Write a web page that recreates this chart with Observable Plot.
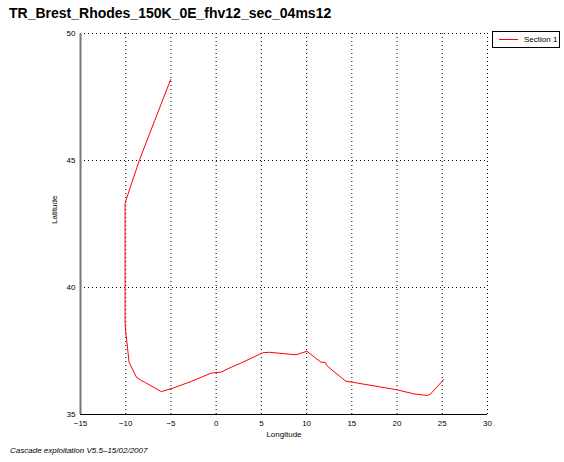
<!DOCTYPE html>
<html>
<head>
<meta charset="utf-8">
<script src="https://cdn.jsdelivr.net/npm/d3@7"></script>
<script src="https://cdn.jsdelivr.net/npm/@observablehq/plot@0.6"></script>
<style>
  html, body { margin: 0; padding: 0; background: #fff; }
  #wrap { position: relative; width: 564px; height: 462px; font-family: "Liberation Sans", Arial, sans-serif; }
  #title { position: absolute; left: 9px; top: 5px; font-size: 14px; font-weight: bold; color: #000; white-space: nowrap; }
  #caption { position: absolute; left: 10px; top: 446px; font-size: 8px; font-style: italic; color: #000; white-space: nowrap; }
  #legend { position: absolute; left: 492px; top: 31px; width: 68px; height: 17px; border: 1px solid #000; background: #fff; font-size: 8px; box-sizing: border-box; }
  #legend .sw { position: absolute; left: 6px; top: 7px; width: 19px; border-top: 1px solid #f00; }
  #legend .lb { position: absolute; left: 31px; top: 3px; white-space: nowrap; }
  #chart { position: absolute; left: 0; top: 0; }
</style>
</head>
<body>
<div id="wrap">
  <div id="chart"></div>
  <div id="title">TR_Brest_Rhodes_150K_0E_fhv12_sec_04ms12</div>
  <div id="legend"><div class="sw"></div><div class="lb">Section 1</div></div>
  <div id="caption">Cascade exploitation V5.5–15/02/2007</div>
</div>
<script>
const seriesName = "Section 1";
const longitude = [-5.03, -6.8, -8.46, -9.37, -10.0, -10.07, -10.07, -9.95, -9.85, -9.63, -8.82, -8.3, -7.9, -6.06, -4.78, -2.76, -0.55, 0.55, 1.65, 2.76, 5.15, 5.88, 8.82, 10.03, 11.58, 12.05, 12.3, 14.33, 15.07, 20.03, 21.87, 23.34, 23.7, 25.17];
const latitude  = [48.19, 46.57, 45.04, 44.08, 43.4, 43.3, 38.57, 38.1, 37.78, 37.06, 36.47, 36.34, 36.27, 35.9, 36.04, 36.3, 36.63, 36.67, 36.86, 37.03, 37.43, 37.45, 37.35, 37.49, 37.06, 37.05, 36.9, 36.31, 36.27, 35.97, 35.81, 35.75, 35.81, 36.38];
const xTicks = [-15, -10, -5, 0, 5, 10, 15, 20, 25, 30];
const yTicks = [35, 40, 45, 50];
const xLabel = "Longitude";
const yLabel = "Latitude";

const data = longitude.map((lon, i) => ({lon, lat: latitude[i]}));

const chart = Plot.plot({
  width: 564,
  height: 462,
  marginLeft: 80,
  marginRight: 77,
  marginTop: 33,
  marginBottom: 48,
  style: {fontFamily: "Liberation Sans, Arial, sans-serif", fontSize: "8px", background: "transparent"},
  x: {domain: [-15, 30]},
  y: {domain: [35, 50]},
  marks: [
    Plot.gridX(xTicks, {stroke: "#000", strokeOpacity: 1, strokeDasharray: "1,3"}),
    Plot.gridY(yTicks, {stroke: "#000", strokeOpacity: 1, strokeDasharray: "1,3"}),
    Plot.axisX(xTicks, {tickSize: 0, tickPadding: 6, label: null, fontSize: 8}),
    Plot.axisY(yTicks, {tickSize: 0, tickPadding: 5, label: null, fontSize: 8}),
    Plot.ruleY([35], {stroke: "#000", strokeWidth: 1.2}),
    Plot.ruleX([-15], {stroke: "#777", strokeWidth: 2}),
    Plot.line(data, {x: "lon", y: "lat", stroke: "#ff0000", strokeWidth: 1}),
    Plot.text([xLabel], {frameAnchor: "bottom", dy: 22, text: d => d, fontSize: 8}),
    Plot.text([yLabel], {frameAnchor: "left", dx: -26, rotate: -90, text: d => d, fontSize: 8})
  ]
});
document.getElementById("chart").appendChild(chart);
</script>
</body>
</html>
